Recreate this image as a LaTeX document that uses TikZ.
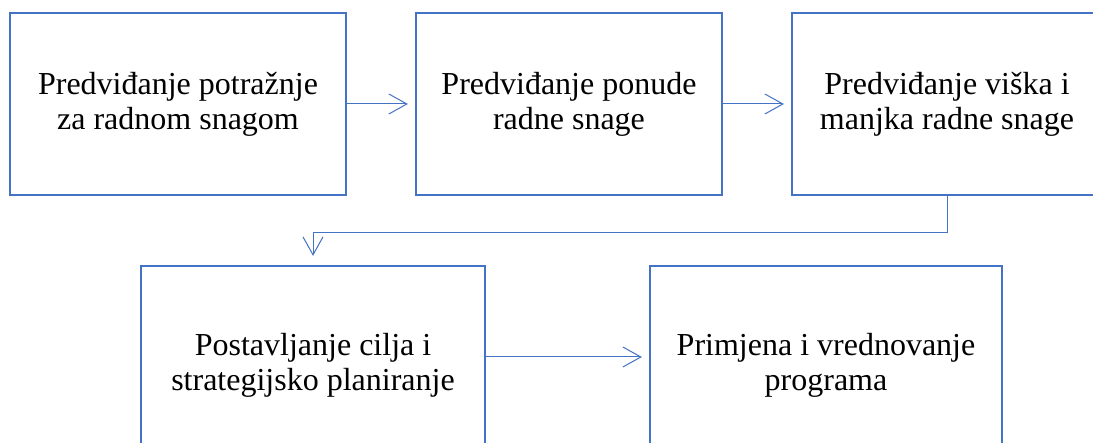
\documentclass[tikz,border=0pt]{standalone}
\usepackage{fontspec}
\setmainfont{Liberation Serif}
\usetikzlibrary{arrows.meta}
\definecolor{obl}{HTML}{4472C4}
\tikzset{
  box/.style={draw=obl, line width=2.2pt, align=center, inner sep=0pt,
    font=\fontsize{32}{35}\selectfont},
  conn/.style={draw=obl, line width=1pt, -{Straight Barb[length=18pt,width=20pt,line width=1pt]}}
}
\begin{document}
\begin{tikzpicture}[x=1pt,y=-1pt]
\useasboundingbox (0,0) rectangle (1093,443);
\clip (0,0) rectangle (1093,443);
\fill[white] (0,0) rectangle (1093,443);
\node[box, minimum width=336pt, minimum height=182pt] (b1) at (178,104) {Predviđanje potražnje\\za radnom snagom};
\node[box, minimum width=306pt, minimum height=182pt] (b2) at (569,104) {Predviđanje ponude\\radne snage};
\node[box, minimum width=310pt, minimum height=182pt] (b3) at (947,104) {Predviđanje viška i\\manjka radne snage};
\node[box, minimum width=344pt, minimum height=198pt] (b4) at (313,365) {Postavljanje cilja i\\strategijsko planiranje};
\node[box, minimum width=352pt, minimum height=198pt] (b5) at (826,365) {Primjena i vrednovanje\\programa};
\draw[conn, shorten >=7pt] (b1.east) -- (b2.west);
\draw[conn, shorten >=7pt] (b2.east) -- (b3.west);
\coordinate (k1) at ([yshift=-36pt]b3.south);
\draw[conn, shorten >=9pt] (b3.south) -- (k1) -| (b4.north);
\draw[conn, shorten >=7pt] ([yshift=8pt]b4.east) -- ([yshift=8pt]b5.west);
\end{tikzpicture}
\end{document}
